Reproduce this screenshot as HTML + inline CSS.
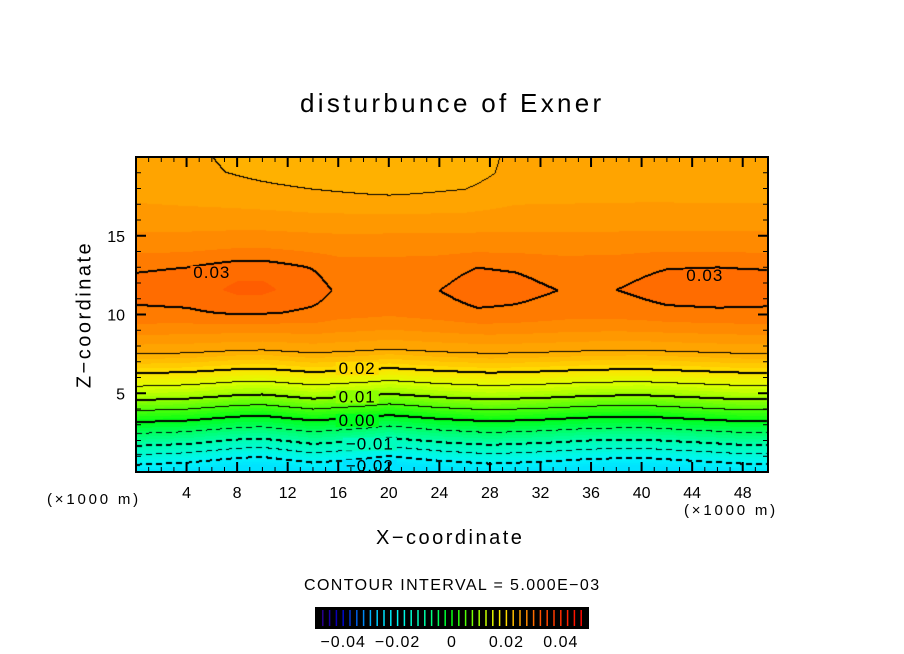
<!DOCTYPE html>
<html><head><meta charset="utf-8">
<style>
body{margin:0;background:#fff;width:904px;height:654px;overflow:hidden;position:relative;font-family:"Liberation Sans",sans-serif;}
.t{position:absolute;white-space:nowrap;color:#000;}
canvas{position:absolute;left:0;top:0;}
</style></head><body>
<canvas id="cv" width="904" height="654"></canvas>
<svg id="ov" width="904" height="654" style="position:absolute;left:0;top:0"></svg>
<div class="t" style="left:300px;top:88px;font-size:26px;letter-spacing:3.3px">disturbunce of Exner</div>
<div class="t" style="left:-10px;top:303px;font-size:20px;transform:rotate(-90deg);width:190px;text-align:center;letter-spacing:2.5px">Z−coordinate</div>
<div class="t" style="left:376px;top:527px;font-size:20px;letter-spacing:2.5px">X−coordinate</div>
<div class="t" style="left:47px;top:491px;font-size:15px;letter-spacing:2.8px">(×1000 m)</div>
<div class="t" style="left:684px;top:502px;font-size:15px;letter-spacing:2.8px">(×1000 m)</div>
<div class="t" style="left:304px;top:577px;font-size:16px;letter-spacing:1.4px">CONTOUR INTERVAL = 5.000E−03</div>
<script>
// ---- data ----
var profZ=[0,0.5,1.7,3.2,4.6,6.3,7.5,9,10,11.5,13,14.5,16,17.5,19,20];
var profV=[-0.024,-0.02,-0.01,0,0.01,0.02,0.025,0.028,0.0295,0.0303,0.0297,0.028,0.027,0.026,0.0256,0.0255];
var shiftX=[0,4,8,10,14,18,20,24,28,32,36,40,44,48,50];
var shiftV=[0,0.1,0.35,0.4,0.1,0.3,0.45,0.2,0.05,0.15,0.3,0.35,0.2,0.05,0.05];
var bumpX=[0,4,8,10,14,16,20,24,27,30,34,38,42,46,50];
var bumpV=[0.0002,0.0004,0.0012,0.0012,0.0003,-0.0005,-0.0007,-0.0003,0.0004,0.0002,-0.0004,-0.0003,0.0003,0.0004,0.0003];
var dipX=[0,6,10,14,20,26,30,50];
var dipV=[0,-0.0005,-0.0009,-0.0012,-0.0016,-0.0012,-0.0002,0];
var levels=[-0.025,-0.02,-0.015,-0.01,-0.005,0,0.005,0.01,0.015,0.02,0.025,0.03];
var xTicks=[4,8,12,16,20,24,28,32,36,40,44,48];
var yTicks=[5,10,15];
var cbLabels=[-0.04,-0.02,0,0.02,0.04];
var cbLabelText=["−0.04","−0.02","0","0.02","0.04"];
var contourLabels=[["0.03",6,12.7],["0.03",45,12.5],["0.02",17.5,6.6],["0.01",17.5,4.8],["0.00",17.5,3.3],["−0.01",18.5,1.8],["−0.02",18.5,0.4]];
// ---- axes ----
var L=136,R=768,T=157,B=472;
function X(x){return L+x*(R-L)/50;}
function Z(z){return B-z*(B-T)/20;}
function interp(xs,vs,x){if(x<=xs[0])return vs[0];for(var i=1;i<xs.length;i++){if(x<=xs[i]){var f=(x-xs[i-1])/(xs[i]-xs[i-1]);return vs[i-1]+f*(vs[i]-vs[i-1]);}}return vs[vs.length-1];}
function field(x,z){var s=interp(shiftX,shiftV,x);var w=Math.max(0,1-Math.min(1,z/12));var v=interp(profZ,profV,z-s*(0.3+w));
 v+=interp(bumpX,bumpV,x)*Math.exp(-Math.pow((z-11.8)/2.2,2));
 v+=interp(dipX,dipV,x)*Math.max(0,Math.min(1,(z-15)/4));return v;}
var cStops=[[-0.05,[60,0,120]],[-0.04,[0,0,200]],[-0.03,[0,170,255]],[-0.025,[0,225,255]],[-0.02,[0,245,250]],[-0.01,[0,255,175]],[-0.005,[0,255,100]],[0,[0,255,20]],[0.01,[150,255,0]],[0.015,[225,255,0]],[0.02,[255,225,0]],[0.0225,[255,195,0]],[0.025,[255,170,0]],[0.0275,[255,145,0]],[0.03,[255,115,0]],[0.0325,[255,85,0]],[0.05,[255,0,0]]];
function col(v){var q=Math.floor(v/0.00125)*0.00125+0.0006;for(var i=1;i<cStops.length;i++){if(q<=cStops[i][0]){var a=cStops[i-1],b=cStops[i],f=(q-a[0])/(b[0]-a[0]);return [0,1,2].map(function(k){return Math.round(a[1][k]+f*(b[1][k]-a[1][k]));});}}return cStops[cStops.length-1][1];}
var cv=document.getElementById('cv'),ctx=cv.getContext('2d');
var W=R-L,H=B-T,img=ctx.createImageData(W,H),vals=[];
for(var j=0;j<H;j++){vals[j]=[];for(var i=0;i<W;i++){var x=i*50/W,z=(H-j)*20/H;vals[j][i]=field(x,z);}}
function lvl(v){var k=-1;for(var m=0;m<levels.length;m++)if(v>=levels[m])k=m;return k;}
for(var j=0;j<H;j++)for(var i=0;i<W;i++){var c=col(vals[j][i]),p=(j*W+i)*4;img.data[p]=c[0];img.data[p+1]=c[1];img.data[p+2]=c[2];img.data[p+3]=255;}
for(var j=0;j<H-1;j++)for(var i=0;i<W-1;i++){var a=lvl(vals[j][i]),b=lvl(vals[j][i+1]),d=lvl(vals[j+1][i]);
 if(a!==b||a!==d){var lv=levels[Math.max(a,b,d)];if(lv===undefined)continue;if(lv<0&&(i%10)>5)continue;
  var thick=Math.abs(Math.round(lv/0.01)*0.01-lv)<1e-6;var pts=thick?[[0,0],[0,1]]:[[0,0]];
  pts.forEach(function(o){var p=((j+o[1])*W+i+o[0])*4;img.data[p]=0;img.data[p+1]=0;img.data[p+2]=0;});}}
ctx.putImageData(img,L,T);
// ---- svg overlay ----
var ns="http://www.w3.org/2000/svg",ov=document.getElementById('ov');
function el(t,a){var e=document.createElementNS(ns,t);for(var k in a)e.setAttribute(k,a[k]);ov.appendChild(e);return e;}
contourLabels.forEach(function(c){
 var t=el('text',{x:X(c[1]),y:Z(c[2])+6,'font-size':17,'text-anchor':'middle','font-family':'Liberation Sans, sans-serif','letter-spacing':1});
 t.textContent=c[0];
 
 
 var bb=t.getBBox();var r=el('rect',{x:bb.x-3,y:bb.y+3,width:bb.width+6,height:bb.height-6,fill:'rgb('+col(field(c[1],c[2]))+')'});
 
 
 ov.insertBefore(r,t);
});
var fr=el('rect',{x:L,y:T,width:W,height:H,fill:'none',stroke:'#000','stroke-width':2});


for(var x=1;x<50;x++){var maj=x%4===0,len=maj?10:5;
 var t1=el('line',{x1:X(x),x2:X(x),y1:B,y2:B-len,stroke:'#000','stroke-width':maj?2:1});
 
 
 var t2=el('line',{x1:X(x),x2:X(x),y1:T,y2:T+len,stroke:'#000','stroke-width':maj?2:1});
 
 }
for(var z=1;z<20;z++){var maj=z%5===0,len=maj?10:5;
 var t3=el('line',{x1:L,x2:L+len,y1:Z(z),y2:Z(z),stroke:'#000','stroke-width':maj?2:1});
 
 
 var t4=el('line',{x1:R,x2:R-len,y1:Z(z),y2:Z(z),stroke:'#000','stroke-width':maj?2:1});
 
 }
xTicks.forEach(function(v){var t=el('text',{x:X(v),y:498,'font-size':16,'text-anchor':'middle','font-family':'Liberation Sans, sans-serif'});t.textContent=v;
 
 });
yTicks.forEach(function(v){var t=el('text',{x:125,y:Z(v)+6,'font-size':16,'text-anchor':'end','font-family':'Liberation Sans, sans-serif'});t.textContent=v;
 
 });
// colorbar
var cbL=316,cbR=588,cbT=608,cbB=628;function CB(v){return cbL+(v+0.05)/0.1*(cbR-cbL);}
var cbg=el('rect',{x:cbL,y:cbT,width:cbR-cbL,height:cbB-cbT,fill:'#000',stroke:'#000','stroke-width':2});


for(var v=-0.0475;v<0.05;v+=0.0025){var s=el('line',{x1:CB(v),x2:CB(v),y1:cbT+2,y2:cbB-2,stroke:'rgb('+col(v)+')','stroke-width':1.5});
 
 }
cbLabels.forEach(function(v,i){var t=el('text',{x:CB(v),y:647,'font-size':16,'text-anchor':'middle','font-family':'Liberation Sans, sans-serif','letter-spacing':1});t.textContent=cbLabelText[i];
 
 });
</script>
</body></html>
